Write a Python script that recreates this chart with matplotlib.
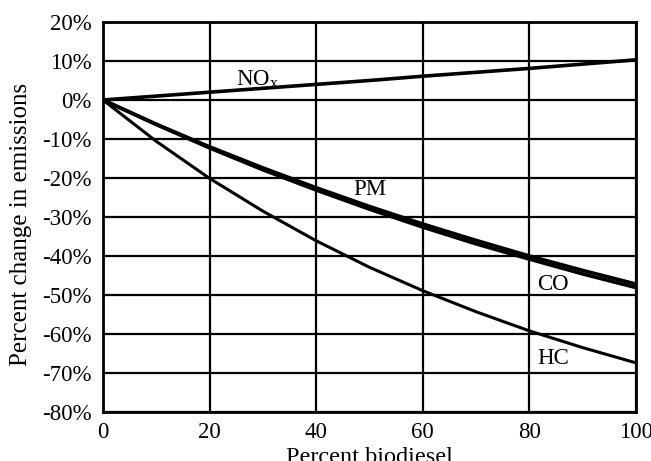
import matplotlib
matplotlib.use("Agg")
import matplotlib.pyplot as plt
from matplotlib.ticker import FuncFormatter

# Percent biodiesel in the blend
blend = [0, 10, 20, 30, 40, 50, 60, 70, 80, 90, 100]

# Percent change in emissions
nox = [0, 1.0, 2.0, 3.0, 4.0, 5.0, 6.1, 7.1, 8.1, 9.2, 10.3]
pm = [0, -6.2, -12.0, -17.4, -22.5, -27.3, -31.8, -36.0, -40.0, -43.7, -47.2]
co = [0, -6.3, -12.3, -17.9, -23.1, -28.0, -32.6, -36.9, -40.8, -44.6, -48.1]
hc = [0, -10.6, -20.1, -28.5, -36.1, -42.9, -48.9, -54.3, -59.2, -63.5, -67.4]

plt.rcParams["font.family"] = ["Liberation Serif", "DejaVu Serif"]

fig = plt.figure(figsize=(6.51, 4.61), dpi=100)
ax = fig.add_axes([0.1582, 0.1063, 0.8188, 0.846])

ax.plot(blend, nox, color="black", lw=2.6)
ax.plot(blend, pm, color="black", lw=2.6)
ax.plot(blend, co, color="black", lw=2.6)
ax.plot(blend, hc, color="black", lw=2.2)

ax.set_xlim(0, 100)
ax.set_ylim(-80, 20)
ax.set_xticks([0, 20, 40, 60, 80, 100])
ax.set_yticks(range(-80, 21, 10))
ax.yaxis.set_major_formatter(FuncFormatter(lambda v, p: f"{int(v)}%"))
ax.grid(True, color="black", lw=1.6)
ax.set_axisbelow(True)
for s in ax.spines.values():
    s.set_linewidth(2.0)
ax.tick_params(length=0, labelsize=16.5, colors="black")
ax.tick_params(axis="y", pad=8)
ax.tick_params(axis="x", pad=7)

ax.set_xlabel("Percent biodiesel", fontsize=17.5, labelpad=3)
ax.set_ylabel("Percent change in emissions", fontsize=18)
ax.yaxis.set_label_coords(-0.133, 0.48)

ax.text(25, 5.3, r"NO$_\mathregular{x}$", fontsize=16.5, ha="left", va="center")
ax.text(50, -23.0, "PM", fontsize=16.5, ha="center", va="center")
ax.text(84.5, -47.4, "CO", fontsize=16.5, ha="center", va="center")
ax.text(84.5, -66.2, "HC", fontsize=16.5, ha="center", va="center")

fig.savefig("out.png", dpi=100)
